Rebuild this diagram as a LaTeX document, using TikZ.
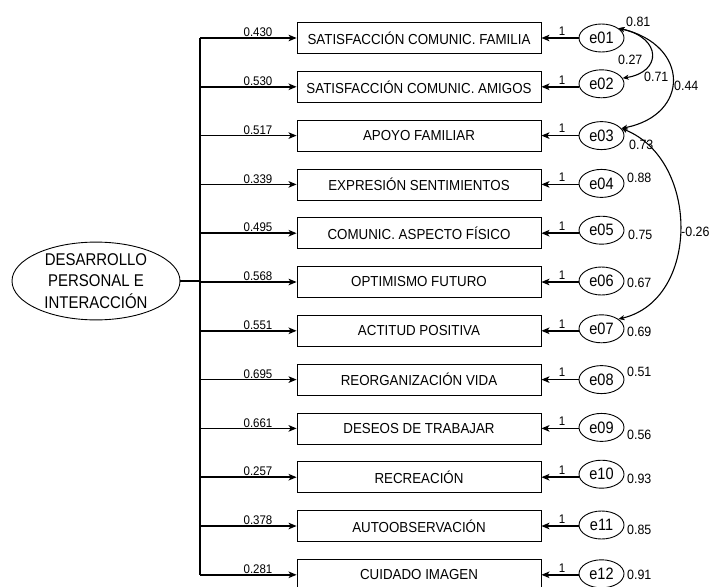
\documentclass[tikz,border=0pt]{standalone}
\usepackage{fontspec}
\setmainfont{Liberation Sans}
\newfontfamily\narrowfont{Liberation Sans}[FakeStretch=0.88]
\newfontfamily\semifont{Liberation Sans}[FakeStretch=0.92]
\usetikzlibrary{arrows.meta,shapes.geometric}
\begin{document}
\begin{tikzpicture}[x=1pt,y=-1pt,
  ind/.style={draw,line width=0.8pt,minimum width=244pt,minimum height=31pt,inner sep=0pt,font=\semifont\fontsize{14.5}{16}\selectfont},
  err/.style={draw,ellipse,line width=0.9pt,minimum width=45pt,minimum height=28pt,inner sep=0pt,font=\narrowfont\fontsize{16.5}{18}\selectfont},
  load/.style={line width=1.5pt,-{Stealth[length=8pt,width=6.5pt,inset=2pt]}},
  wlab/.style={font=\semifont\fontsize{12.5}{14}\selectfont,inner sep=1pt,anchor=south},
  onelab/.style={font=\semifont\fontsize{12.5}{14}\selectfont,inner sep=2.5pt,anchor=south},
  vlab/.style={font=\semifont\fontsize{13.5}{15}\selectfont,inner sep=0pt,anchor=west},
  cov/.style={line width=1.1pt,{Stealth[length=6pt,width=5pt,inset=1.5pt]}-{Stealth[length=6pt,width=5pt,inset=1.5pt]}}
]
\useasboundingbox (0,0) rectangle (714,586);
\foreach \i/\t/\w/\ey in {1/SATISFACCIÓN COMUNIC. FAMILIA/0.430/0,
  2/SATISFACCIÓN COMUNIC. AMIGOS/0.530/-3,
  3/APOYO FAMILIAR/0.517/0,
  4/EXPRESIÓN SENTIMIENTOS/0.339/-1,
  5/COMUNIC. ASPECTO FÍSICO/0.495/-3,
  6/OPTIMISMO FUTURO/0.568/-1,
  7/ACTITUD POSITIVA/0.551/-2,
  8/REORGANIZACIÓN VIDA/0.695/0,
  9/DESEOS DE TRABAJAR/0.661/-1,
  10/RECREACIÓN/0.257/-3,
  11/AUTOOBSERVACIÓN/0.378/-1,
  12/CUIDADO IMAGEN/0.281/-1} {
  \pgfmathsetmacro\yy{38+48.8*(\i-1)}
  \node[ind] (v\i) at (419,\yy) {\t};
  \node[err] (e\i) at (601.5,\yy+\ey) {e\ifnum\i<10 0\fi\i};
  \coordinate (b\i) at (200,\yy);
  \draw[load] (b\i) -- (v\i.west);
  \node[wlab] (w\i) at (258,\yy) {\w};
  \draw[load] (e\i.west |- v\i.east) -- (v\i.east);
  \node[onelab] (o\i) at (562,\yy) {1};
}
\draw[line width=1.5pt] (b1) -- (b12);
\node[draw,ellipse,minimum width=168pt,minimum height=77pt,inner sep=0pt,line width=0.9pt,align=center,
  font=\narrowfont\fontsize{17}{21.5}\selectfont] (F) at (96,281) {DESARROLLO\\PERSONAL E\\INTERACCIÓN};
\draw[line width=1.5pt] (F.east) -- (F.east -| b1);
% covariances
\draw[cov] (e1.30) .. controls (662,38) and (662,72) .. (e2.15);
\draw[cov] (e1.30) .. controls (690,45) and (690,115) .. (e3.20);
\draw[cov] (e3.20) .. controls (700,160) and (700,300) .. (e7.30);
% variance and covariance labels
\node[vlab] (l81) at (626,22) {0.81};
\node[vlab] (l27) at (618,60) {0.27};
\node[vlab] (l71) at (644,77) {0.71};
\node[vlab] (l44) at (674,86) {0.44};
\node[vlab] (l73) at (629,145) {0.73};
\node[vlab] (l88) at (627,178) {0.88};
\node[vlab] (l75) at (628,235) {0.75};
\node[vlab] (l67) at (627,283) {0.67};
\node[vlab] (l26) at (681,232) {-0.26};
\node[vlab] (l69) at (627,332) {0.69};
\node[vlab] (l51) at (627,372) {0.51};
\node[vlab] (l56) at (627,435) {0.56};
\node[vlab] (l93) at (627,479) {0.93};
\node[vlab] (l85) at (627,530) {0.85};
\node[vlab] (l91) at (627,575) {0.91};
\end{tikzpicture}
\end{document}
